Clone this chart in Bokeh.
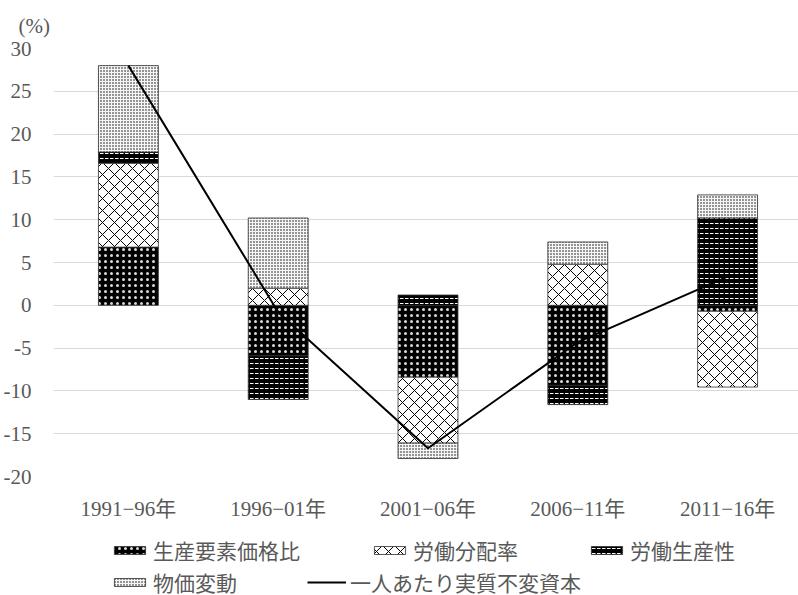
import numpy as np
from bokeh.plotting import figure
from bokeh.layouts import column
from bokeh.models import (ColumnDataSource, Range1d, FixedTicker, Legend,
                          LegendItem)
from bokeh.embed import file_html
from bokeh.resources import INLINE

# Contributions to growth of real fixed capital per worker (%)
periods = ["1991−96年", "1996−01年", "2001−06年", "2006−11年", "2011−16年"]
factor_price_ratio = [6.8, -5.9, -8.4, -9.35, -0.7]     # 生産要素価格比
labor_share = [9.8, 2.0, -7.7, 4.8, -8.85]               # 労働分配率
labor_productivity = [1.3, -5.1, 1.2, -2.25, 10.2]       # 労働生産性
price_change = [10.1, 8.2, -1.8, 2.6, 2.7]               # 物価変動
capital_per_worker = [28.0, -0.8, -16.7, -4.3, 3.35]     # 一人あたり実質不変資本

series_names = ["生産要素価格比", "労働分配率", "労働生産性", "物価変動"]
line_name = "一人あたり実質不変資本"
y_ticks = [-20, -15, -10, -5, 0, 5, 10, 15, 20, 25, 30]

FONT = "'Liberation Serif', 'Noto Sans CJK JP', serif"
TEXT = "#595959"
FS = "21px"

W = 798
MAIN_H, LEG_H = 523, 72
LEFT, TOP, FRAME_H = 52, 48, 433
frame_w = W - LEFT

x = np.arange(len(periods))
p = figure(width=W, height=MAIN_H, output_backend="svg", toolbar_location=None,
           x_range=Range1d(-0.5, -0.5 + frame_w / 150.0),
           y_range=Range1d(-20, 30),
           min_border_left=LEFT, min_border_right=0,
           min_border_top=TOP, min_border_bottom=MAIN_H - TOP - FRAME_H)
p.outline_line_color = None

# unit caption at the top-left
p.title.text = "(%)"
p.title.align = "left"
p.title.offset = 17 - LEFT
p.title.standoff = 22
p.title.text_font = FONT
p.title.text_font_size = FS
p.title.text_font_style = "normal"
p.title.text_color = TEXT

# axes
p.xaxis.ticker = FixedTicker(ticks=list(x))
p.xaxis.major_label_overrides = {int(i): s for i, s in zip(x, periods)}
p.yaxis.ticker = FixedTicker(ticks=y_ticks)
p.yaxis.major_label_overrides = {t: str(t) for t in y_ticks}
for ax in (p.xaxis, p.yaxis):
    ax.axis_line_color = None
    ax.major_tick_line_color = None
    ax.minor_tick_line_color = None
    ax.major_label_text_font = FONT
    ax.major_label_text_font_size = FS
    ax.major_label_text_color = TEXT
p.xaxis.major_label_standoff = 14
p.yaxis.major_label_standoff = 16
p.xgrid.grid_line_color = None
p.ygrid.ticker = FixedTicker(ticks=y_ticks)
p.ygrid.grid_line_color = "#d9d9d9"
p.ygrid.grid_line_width = 1

# fill patterns for the four components
styles = [
    dict(fill_color="black", hatch_pattern="dot", hatch_color="white",
         hatch_scale=6, hatch_weight=0.5, hatch_alpha=0.85),
    dict(fill_color="white", hatch_pattern="diagonal_cross", hatch_color="black",
         hatch_scale=12, hatch_weight=1),
    dict(fill_color="black", hatch_pattern="horizontal_dash", hatch_color="white",
         hatch_scale=5, hatch_weight=1),
    dict(fill_color="#f6f6f6", hatch_pattern="dot", hatch_color="black",
         hatch_scale=3, hatch_weight=0.6),
]
bar_line = dict(line_color="#303030", line_width=0.8)

# stacked bars: positives stack upward from 0, negatives downward
pos_base = np.zeros(len(periods))
neg_base = np.zeros(len(periods))
for vals, st in zip([factor_price_ratio, labor_share, labor_productivity, price_change], styles):
    v = np.array(vals, dtype=float)
    bottom = np.where(v >= 0, pos_base, neg_base)
    top = bottom + v
    pos_base = np.where(v >= 0, top, pos_base)
    neg_base = np.where(v < 0, top, neg_base)
    src = ColumnDataSource(dict(x=x, top=top, bottom=bottom))
    p.vbar(x="x", top="top", bottom="bottom", width=0.4, source=src,
           **bar_line, **st)

line_src = ColumnDataSource(dict(x=x, y=capital_per_worker))
p.line(x="x", y="y", source=line_src, line_color="black", line_width=2)

# legend strip underneath the chart; its sample glyphs sit outside the visible range
leg = figure(width=W, height=LEG_H, output_backend="svg", toolbar_location=None,
             x_range=Range1d(0, W), y_range=Range1d(0, LEG_H),
             x_axis_type=None, y_axis_type=None,
             min_border=0, min_border_left=0, min_border_right=0,
             min_border_top=0, min_border_bottom=0)
leg.outline_line_color = None
leg.xgrid.visible = False
leg.ygrid.visible = False

swatches = []
for st in styles:
    swatches.append(leg.vbar(x=[-500], top=[-500], bottom=[-501], width=1,
                             **bar_line, **st))
swatches.append(leg.line(x=[-500, -499], y=[-500, -500],
                         line_color="black", line_width=2))

# the strip's frame lines up with the chart frame, so offsets are from x = LEFT
row1, row2 = 30, -2
legend_x = [113, 373, 590, 113, 310]
legend_y = [row1, row1, row1, row2, row2]
for name, r, lx, ly in zip(series_names + [line_name], swatches, legend_x, legend_y):
    lg = Legend(items=[LegendItem(label=name, renderers=[r])],
                location=(lx - LEFT - 4, ly),
                orientation="horizontal", padding=0, margin=0, spacing=0,
                glyph_width=39, glyph_height=10, label_standoff=4,
                label_height=22,
                label_text_font=FONT, label_text_font_size=FS,
                label_text_color=TEXT, background_fill_alpha=0,
                border_line_alpha=0)
    leg.add_layout(lg, "center")

layout = column(p, leg, spacing=0)
open("out.html", "w").write(file_html(layout, INLINE))
